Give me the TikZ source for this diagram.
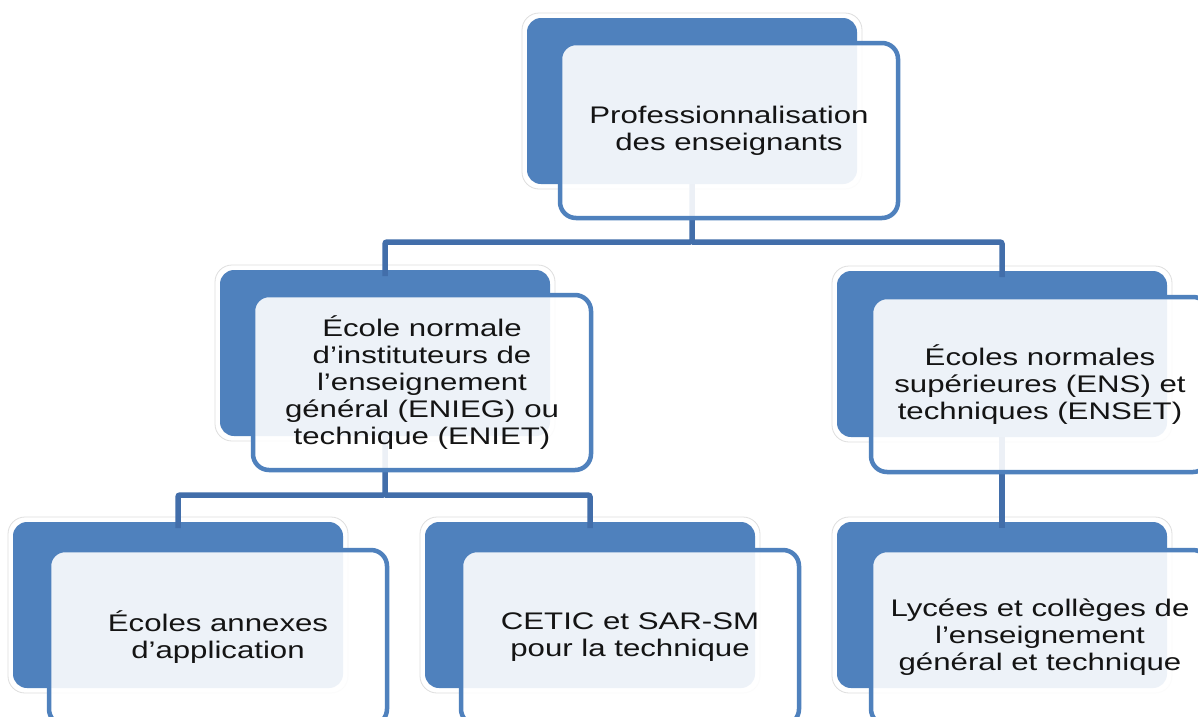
\documentclass[tikz,border=0pt]{standalone}
\usepackage{fontspec}
\setmainfont{Liberation Sans}[FakeStretch=1.3]
\definecolor{backblue}{RGB}{79,129,189}
\definecolor{connblue}{RGB}{66,110,170}
\definecolor{txt}{RGB}{20,20,20}
\tikzset{
  backbox/.style={draw=none, fill=backblue, rounded corners=14pt, minimum width=330pt, minimum height=166pt, anchor=north west, inner sep=0pt, outer sep=0pt},
  frontbox/.style={draw=backblue, line width=4.5pt, fill=white, fill opacity=0.9, text opacity=1, rounded corners=16pt, minimum width=338pt, minimum height=175pt, anchor=north west, inner sep=0pt, outer sep=0pt, align=center, font=\fontsize{24}{27}\selectfont, text=txt},
  halo/.style={draw=black!13, line width=0.8pt, rounded corners=17pt},
  conn/.style={draw=connblue, line width=5.5pt, rounded corners=2pt}
}
\begin{document}
\begin{tikzpicture}[x=1pt,y=-1pt]
\useasboundingbox (0,0) rectangle (1198,716);
\clip (0,0) rectangle (1198,716);
\fill[white] (0,0) rectangle (1198,716);
% back boxes
\node[backbox] (Tb) at (527,18) {};
\node[backbox] (Ab) at (220,270) {};
\node[backbox] (Bb) at (837,271) {};
\node[backbox] (Cb) at (13,522) {};
\node[backbox] (Db) at (425,522) {};
\node[backbox] (Eb) at (837,522) {};
% halos
\foreach \n in {Tb,Ab,Bb,Cb,Db,Eb}{
  \draw[halo] ([shift={(-5,-5)}]\n.north west) rectangle ([shift={(5,5)}]\n.south east);
}
% connectors
\coordinate (j1) at (Tb.south |- 0,242);
\coordinate (j2) at (Ab.south |- 0,495);
\draw[conn] (Tb.south) -- (j1) -| ([yshift=-6pt]Ab.north);
\draw[conn] (j1) -| ([yshift=-6pt]Bb.north);
\draw[conn] (Ab.south) -- (j2) -| ([yshift=-6pt]Cb.north);
\draw[conn] (j2) -| ([yshift=-6pt]Db.north);
\draw[conn] (Bb.south) -- ([yshift=-6pt]Eb.north);
% front boxes
\node[frontbox] (T) at (560,43) {Professionnalisation\\des enseignants};
\node[frontbox] (A) at (253,295) {École normale\\d’instituteurs de\\l’enseignement\\général (ENIEG) ou\\technique (ENIET)};
\node[frontbox] (B) at (871,297) {Écoles normales\\supérieures (ENS) et\\techniques (ENSET)};
\node[frontbox] (C) at (49,550) {Écoles annexes\\d’application};
\node[frontbox] (D) at (461,550) {CETIC et SAR-SM\\pour la technique};
\node[frontbox] (E) at (871,550) {Lycées et collèges de\\l’enseignement\\général et technique};
\end{tikzpicture}
\end{document}
